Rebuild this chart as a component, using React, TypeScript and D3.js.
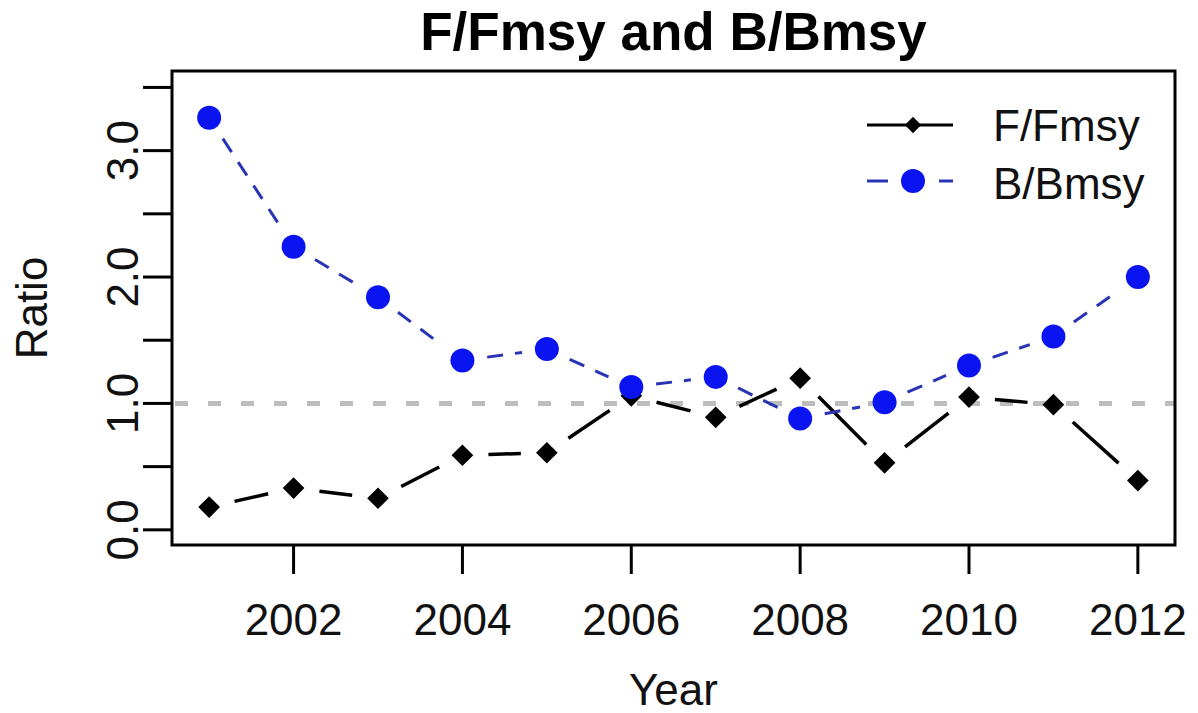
import React from 'react';
import * as d3 from 'd3';

// values
const years = [2001, 2002, 2003, 2004, 2005, 2006, 2007, 2008, 2009, 2010, 2011, 2012];
const fRatio = [0.18, 0.33, 0.25, 0.59, 0.61, 1.06, 0.89, 1.20, 0.53, 1.05, 0.99, 0.39];
const bRatio = [3.26, 2.24, 1.84, 1.34, 1.43, 1.13, 1.21, 0.88, 1.01, 1.30, 1.53, 2.00];
const xTicks = [2002, 2004, 2006, 2008, 2010, 2012];
const yTicks = [0, 0.5, 1, 1.5, 2, 2.5, 3, 3.5];
const yLabels = [0, 1, 2, 3];
const refLine = 1;

const W = 1198;
const H = 713;
const left = 172, right = 1175, top = 71, bottom = 545;
const font = '"Liberation Sans", Arial, Helvetica, sans-serif';

const x = d3.scaleLinear().domain([2000.56, 2012.44]).range([left, right]);
const y = d3.scaleLinear().domain([-0.12, 3.63]).range([bottom, top]);

// R type="b": segments between points, clipped back from each point
function gappedSegments(vals: number[], gap: number) {
  const segs: { x1: number; y1: number; x2: number; y2: number }[] = [];
  for (let i = 0; i < vals.length - 1; i++) {
    const ax = x(years[i]), ay = y(vals[i]);
    const bx = x(years[i + 1]), by = y(vals[i + 1]);
    const len = Math.hypot(bx - ax, by - ay);
    if (len <= gap * 2) continue;
    const ux = (bx - ax) / len, uy = (by - ay) / len;
    segs.push({ x1: ax + ux * gap, y1: ay + uy * gap, x2: bx - ux * gap, y2: by - uy * gap });
  }
  return segs;
}

// plain diamond (square rotated 45deg)
const diamond = d3.symbol().type(d3.symbolDiamond2).size(300);

export default function App() {
  const fSegs = gappedSegments(fRatio, 26);
  const bSegs = gappedSegments(bRatio, 25);
  const blueLine = '#2834b4';
  const blueDot = '#0a14f0';

  return (
    <svg width={W} height={H} style={{ position: 'absolute', left: 0, top: 0, background: '#fff' }}
      fontFamily={font}>
      <text x={(left + right) / 2} y={50} textAnchor="middle" fontSize={53} fontWeight="bold">
        F/Fmsy and B/Bmsy
      </text>

      {/* reference line */}
      <line x1={left + 3} x2={right} y1={y(refLine)} y2={y(refLine)} stroke="#bdbdbd"
        strokeWidth={5} strokeDasharray="13 20" />

      {/* F/Fmsy */}
      {fSegs.map((s, i) => (
        <line key={'f' + i} {...s} stroke="#000" strokeWidth={3.5} />
      ))}
      {years.map((yr, i) => (
        <path key={'fd' + i} d={diamond() as string} transform={`translate(${x(yr)},${y(fRatio[i])})`}
          fill="#000" />
      ))}

      {/* B/Bmsy */}
      {bSegs.map((s, i) => (
        <line key={'b' + i} {...s} stroke={blueLine} strokeWidth={3} strokeDasharray="16 12" />
      ))}
      {years.map((yr, i) => (
        <circle key={'bd' + i} cx={x(yr)} cy={y(bRatio[i])} r={12} fill={blueDot} />
      ))}

      {/* box */}
      <rect x={left} y={top} width={right - left} height={bottom - top} fill="none" stroke="#000" strokeWidth={3} />

      {/* x axis */}
      {xTicks.map((t) => (
        <g key={'xt' + t}>
          <line x1={x(t)} x2={x(t)} y1={bottom} y2={bottom + 29} stroke="#000" strokeWidth={3} />
          <text x={x(t)} y={635} textAnchor="middle" fontSize={44} fill="#111">{t}</text>
        </g>
      ))}
      <text x={(left + right) / 2} y={705} textAnchor="middle" fontSize={44} fill="#111">Year</text>

      {/* y axis */}
      {yTicks.map((t) => (
        <line key={'yt' + t} x1={left - 29} x2={left} y1={y(t)} y2={y(t)} stroke="#000" strokeWidth={3} />
      ))}
      {yLabels.map((t) => (
        <text key={'yl' + t} transform={`translate(138,${y(t)}) rotate(-90)`} textAnchor="middle"
          fontSize={44} fill="#111">{d3.format('.1f')(t)}</text>
      ))}
      <text transform={`translate(47,${(top + bottom) / 2}) rotate(-90)`} textAnchor="middle"
        fontSize={44} fill="#111">Ratio</text>

      {/* legend */}
      <g>
        <line x1={867} x2={953} y1={125} y2={125} stroke="#000" strokeWidth={3} />
        <path d={diamond() as string} transform="translate(913,125) scale(0.75)" fill="#000" />
        <text x={993} y={141} fontSize={44} fill="#111">F/Fmsy</text>
        <line x1={867} x2={888} y1={181} y2={181} stroke={blueLine} strokeWidth={3} />
        <line x1={939} x2={953} y1={181} y2={181} stroke={blueLine} strokeWidth={3} />
        <circle cx={913} cy={181} r={12} fill={blueDot} />
        <text x={993} y={199} fontSize={44} fill="#111">B/Bmsy</text>
      </g>
    </svg>
  );
}
